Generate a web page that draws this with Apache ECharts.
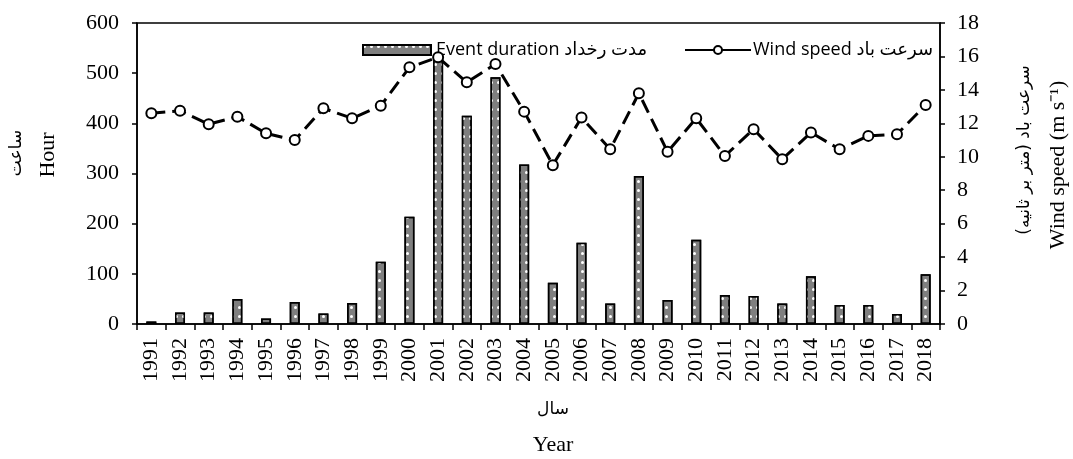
<!DOCTYPE html>
<html>
<head>
<meta charset="utf-8">
<script src="https://cdn.jsdelivr.net/npm/echarts@6/dist/echarts.min.js"></script>
<style>
  html, body { margin: 0; padding: 0; background: #fff; }
  #chart { width: 1073px; height: 459px; }
</style>
</head>
<body>
<div id="chart"></div>
<script>
const years = ['1991', '1992', '1993', '1994', '1995', '1996', '1997', '1998', '1999', '2000',
  '2001', '2002', '2003', '2004', '2005', '2006', '2007', '2008', '2009', '2010',
  '2011', '2012', '2013', '2014', '2015', '2016', '2017', '2018'];

// مدت رخداد (hour)
const eventDuration = [5, 23, 23, 50, 11, 44, 21, 42, 124, 214,
  535, 415, 492, 318, 82, 162, 41, 295, 48, 168,
  58, 56, 41, 95, 38, 38, 20, 99];

// سرعت باد (m/s)
const windSpeed = [12.6, 12.75, 11.95, 12.4, 11.4, 11.0, 12.9, 12.3, 13.05, 15.35,
  15.95, 14.45, 15.55, 12.7, 9.5, 12.35, 10.45, 13.8, 10.3, 12.3,
  10.05, 11.65, 9.85, 11.45, 10.45, 11.25, 11.35, 13.1];

const hourTicks = { min: 0, max: 600, interval: 100 };
const windTicks = { min: 0, max: 18, interval: 2 };

const serif = '"Liberation Serif", "Times New Roman", serif';
const sans = '"Open Sans", "DejaVu Sans", sans-serif';
const arabic = '"DejaVu Sans", sans-serif';

const chart = echarts.init(document.getElementById('chart'), null, { renderer: 'canvas' });

// white dot texture on the bars
const dotDecal = {
  symbol: 'circle',
  symbolSize: 1,
  color: '#ffffff',
  dashArrayX: [[3, 4]],
  dashArrayY: [3, 6],
  rotation: 0
};

// rotated axis titles (read bottom to top)
const vText = (x, y, text, font) => ({
  type: 'text', x, y, rotation: Math.PI / 2,
  style: { text, font, fill: '#000', align: 'center', verticalAlign: 'middle' }
});

const option = {
  backgroundColor: '#fff',
  animation: false,
  grid: {
    left: 137,
    right: 133,
    top: 23,
    bottom: 135,
    show: true,
    borderColor: '#000',
    borderWidth: 1.5
  },
  legend: [
    {
      data: [{ name: 'Event duration مدت رخداد', icon: 'rect' }],
      left: 357,
      top: 36,
      itemWidth: 68,
      itemHeight: 10,
      textStyle: { fontFamily: sans, fontSize: 18, color: '#000' }
    },
    {
      data: ['Wind speed سرعت باد'],
      left: 679,
      top: 36,
      itemWidth: 66,
      itemHeight: 10,
      lineStyle: { type: 'solid' },
      textStyle: { fontFamily: sans, fontSize: 18, color: '#000', padding: [0, 0, 0, -3] }
    }
  ],
  xAxis: {
    type: 'category',
    data: years,
    boundaryGap: true,
    axisLine: { lineStyle: { color: '#000', width: 1.5 } },
    axisTick: { show: true, length: 6, lineStyle: { color: '#000', width: 1.5 } },
    axisLabel: {
      rotate: 90,
      interval: 0,
      margin: 14,
      color: '#000',
      fontFamily: serif,
      fontSize: 22
    },
    splitLine: { show: false }
  },
  yAxis: [
    {
      type: 'value',
      min: hourTicks.min,
      max: hourTicks.max,
      interval: hourTicks.interval,
      axisLine: { show: true, lineStyle: { color: '#000', width: 1.5 } },
      axisTick: { show: true, length: 5, lineStyle: { color: '#000', width: 1.5 } },
      axisLabel: { color: '#000', fontFamily: serif, fontSize: 22, margin: 18 },
      splitLine: { show: false }
    },
    {
      type: 'value',
      position: 'right',
      min: windTicks.min,
      max: windTicks.max,
      interval: windTicks.interval,
      axisLine: { show: true, lineStyle: { color: '#000', width: 1.5 } },
      axisTick: { show: true, length: 5, lineStyle: { color: '#000', width: 1.5 } },
      axisLabel: { color: '#000', fontFamily: serif, fontSize: 22, margin: 17 },
      splitLine: { show: false }
    }
  ],
  series: [
    {
      name: 'Event duration مدت رخداد',
      type: 'bar',
      yAxisIndex: 0,
      data: eventDuration,
      barWidth: 10,
      itemStyle: {
        color: '#7f7f7f',
        borderColor: '#000',
        borderWidth: 1.5,
        decal: dotDecal
      }
    },
    {
      name: 'Wind speed سرعت باد',
      type: 'line',
      yAxisIndex: 1,
      data: windSpeed,
      symbol: 'circle',
      symbolSize: 10,
      z: 5,
      lineStyle: { color: '#000', width: 3, type: [14, 7] },
      itemStyle: { color: '#fff', borderColor: '#000', borderWidth: 2 }
    }
  ],
  graphic: [
    vText(17, 153, 'ساعت', '17px ' + arabic),
    vText(48, 155, 'Hour', '22px ' + serif),
    vText(1025, 150, 'سرعت باد (متر بر ثانیه)', '17px ' + arabic),
    vText(1058, 165, 'Wind speed (m s⁻¹)', '22px ' + serif),
    {
      type: 'text', x: 553, y: 410,
      style: { text: 'سال', font: '17px ' + arabic, fill: '#000', align: 'center', verticalAlign: 'middle' }
    },
    {
      type: 'text', x: 553, y: 445,
      style: { text: 'Year', font: '22px ' + serif, fill: '#000', align: 'center', verticalAlign: 'middle' }
    }
  ]
};

chart.setOption(option);
</script>
</body>
</html>
